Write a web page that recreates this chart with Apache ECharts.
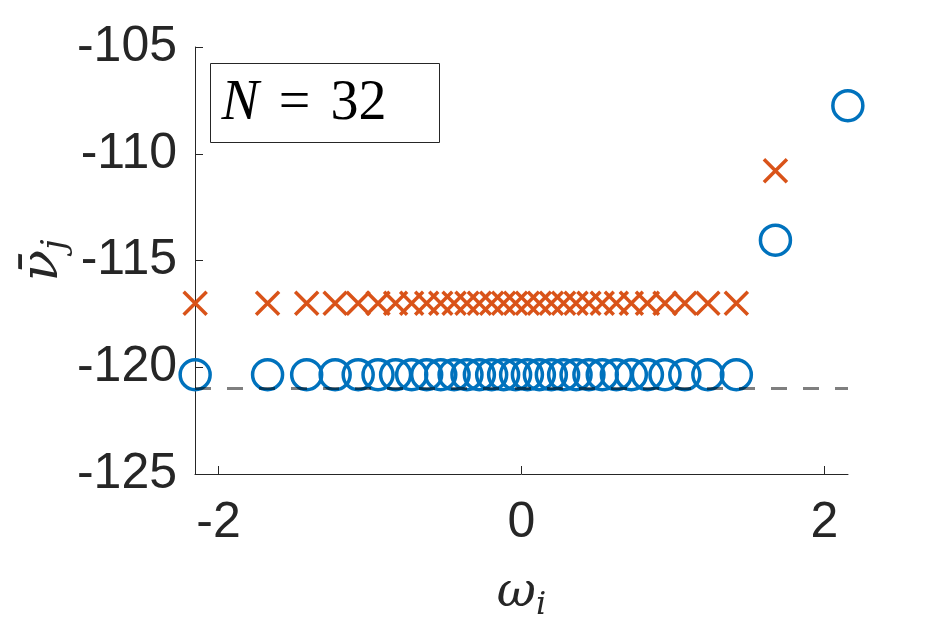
<!DOCTYPE html>
<html>
<head>
<meta charset="utf-8">
<script src="https://cdn.jsdelivr.net/npm/echarts@6/dist/echarts.min.js"></script>
<style>
  html, body { margin: 0; padding: 0; background: #fff; }
  #chart { width: 938px; height: 625px; }
</style>
</head>
<body>
<div id="chart"></div>
<script>
// omega_i, one per oscillator (N = 32)
var omega = [-2.154, -1.676, -1.418, -1.230, -1.078, -0.947, -0.831, -0.725,
  -0.626, -0.533, -0.445, -0.360, -0.278, -0.197, -0.118, -0.039,
  0.039, 0.118, 0.197, 0.278, 0.360, 0.445, 0.533, 0.626,
  0.725, 0.831, 0.947, 1.078, 1.230, 1.418, 1.676, 2.154]
// orange crosses (last one is off the chart)
var crossNu = [-117.0, -117.0, -117.0, -117.0, -117.0, -117.0, -117.0, -117.0,
  -117.0, -117.0, -117.0, -117.0, -117.0, -117.0, -117.0, -117.0,
  -117.0, -117.0, -117.0, -117.0, -117.0, -117.0, -117.0, -117.0,
  -117.0, -117.0, -117.0, -117.0, -117.0, -117.0, -110.8]
// blue circles
var circleNu = [-120.35, -120.35, -120.35, -120.35, -120.35, -120.35, -120.35, -120.35,
  -120.35, -120.35, -120.35, -120.35, -120.35, -120.35, -120.35, -120.35,
  -120.35, -120.35, -120.35, -120.35, -120.35, -120.35, -120.35, -120.35,
  -120.35, -120.35, -120.35, -120.35, -120.35, -120.35, -114.05, -107.75]
// dashed reference level
var refX = [-2.155, 2.155]
var refNu = -121.0
var xTicks = [-2, 0, 2]

var blue = '#0072BD'
var orange = '#D95319'
var axisColor = '#262626'
var labelFont = '"Liberation Sans", Arial, sans-serif'
var mathFont = '"DejaVu Serif", "Liberation Serif", serif'
var boxFont = '"Liberation Serif", "DejaVu Serif", serif'

var crossData = crossNu.map(function (v, i) { return [omega[i], v] })
var circleData = circleNu.map(function (v, i) { return [omega[i], v] })
var refData = refX.map(function (x) { return [x, refNu] })

var chart = echarts.init(document.getElementById('chart'))
chart.setOption({
  animation: false,
  grid: { left: 195, right: 90, top: 47, bottom: 151, containLabel: false, outerBoundsMode: 'none' },
  xAxis: {
    type: 'value',
    min: -2.155,
    max: 2.155,
    splitLine: { show: false },
    axisLine: { onZero: false, lineStyle: { color: axisColor, width: 1 } },
    axisTick: { inside: true, length: 8, customValues: xTicks, lineStyle: { color: axisColor } },
    axisLabel: {
      customValues: xTicks,
      color: axisColor, fontFamily: labelFont, fontSize: 50, margin: 24
    },
    name: '{a|ω}{s|i}',
    nameLocation: 'middle',
    nameGap: 92,
    nameMoveOverlap: false,
    nameTextStyle: {
      rich: {
        a: { fontFamily: mathFont, fontStyle: 'italic', fontSize: 48, color: axisColor },
        s: { fontFamily: mathFont, fontStyle: 'italic', fontSize: 32, color: axisColor, padding: [24, 0, 0, 0] }
      }
    }
  },
  yAxis: {
    type: 'value',
    min: -125,
    max: -105,
    interval: 5,
    splitLine: { show: false },
    axisLine: { onZero: false, lineStyle: { color: axisColor, width: 1 } },
    axisTick: { inside: true, length: 8, lineStyle: { color: axisColor } },
    axisLabel: { color: axisColor, fontFamily: labelFont, fontSize: 50, margin: 18 },
    name: '{a|ν̄}{s|j}',
    nameLocation: 'middle',
    nameRotate: 90,
    nameGap: 122,
    nameMoveOverlap: false,
    nameTextStyle: {
      rich: {
        a: { fontFamily: mathFont, fontStyle: 'italic', fontSize: 52, color: axisColor },
        s: { fontFamily: mathFont, fontStyle: 'italic', fontSize: 34, color: axisColor, padding: [26, 0, 0, 0] }
      }
    }
  },
  graphic: [{
    type: 'group',
    left: 210,
    top: 63,
    children: [{
      type: 'rect',
      shape: { x: 0, y: 0, width: 229, height: 79 },
      style: { fill: '#fff', stroke: axisColor, lineWidth: 1 }
    }, {
      type: 'text',
      x: 11,
      y: 41,
      style: {
        text: '{n|N}{e|=}{d|32}',
        verticalAlign: 'middle',
        rich: {
          n: { fontFamily: boxFont, fontStyle: 'italic', fontSize: 56, fill: '#000' },
          e: { fontFamily: boxFont, fontSize: 56, fill: '#000', padding: [0, 0, 0, 20] },
          d: { fontFamily: boxFont, fontSize: 56, fill: '#000', padding: [0, 0, 0, 20] }
        }
      }
    }]
  }],
  series: [{
    name: 'cross',
    type: 'scatter',
    symbol: 'path://M0,0L10,10M10,0L0,10',
    symbolSize: 23,
    clip: false,
    itemStyle: { color: orange, borderColor: orange, borderWidth: 3.5, opacity: 1 },
    data: crossData
  }, {
    name: 'circle',
    type: 'scatter',
    symbol: 'circle',
    symbolSize: 30,
    clip: false,
    itemStyle: { color: 'rgba(0,0,0,0)', borderColor: blue, borderWidth: 3.5, opacity: 1 },
    data: circleData
  }, {
    name: 'ref',
    type: 'line',
    symbol: 'none',
    z: 5,
    lineStyle: { color: 'rgba(0,0,0,0.5)', width: 3, type: [16, 16] },
    data: refData
  }]
})
</script>
</body>
</html>
